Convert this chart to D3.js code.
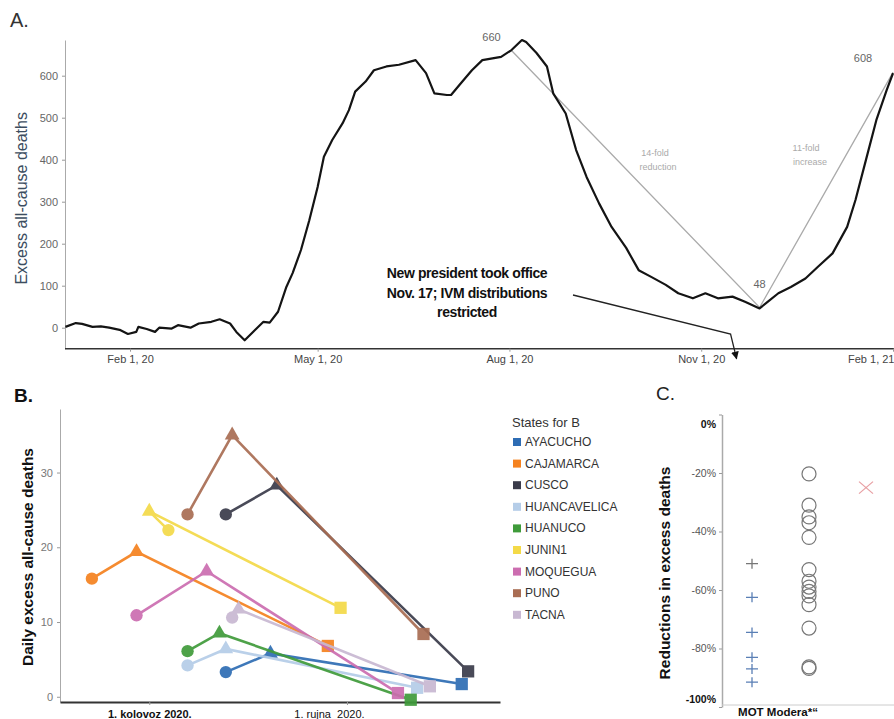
<!DOCTYPE html>
<html>
<head>
<meta charset="utf-8">
<script src="https://cdn.jsdelivr.net/npm/d3@7"></script>
<style>
  body { margin: 0; background: #fff; }
  svg { display: block; font-family: 'Liberation Sans', Arial, sans-serif; }
</style>
</head>
<body>
<svg id="chart" width="894" height="719"></svg>
<script>
const parse = d3.timeParse('%Y-%m-%d')

// ---- Panel A: excess all-cause deaths, Peru ----
const excessDates = [
  '2020-01-01', '2020-01-06', '2020-01-09', '2020-01-14', '2020-01-18', '2020-01-22', '2020-01-27',
  '2020-01-31', '2020-02-04', '2020-02-05', '2020-02-09', '2020-02-13', '2020-02-15', '2020-02-21',
  '2020-02-24', '2020-03-01', '2020-03-05', '2020-03-11', '2020-03-15', '2020-03-20', '2020-03-23',
  '2020-03-27', '2020-03-31', '2020-04-05', '2020-04-08', '2020-04-12', '2020-04-16', '2020-04-19',
  '2020-04-23', '2020-04-27', '2020-05-01', '2020-05-04', '2020-05-08', '2020-05-13', '2020-05-16',
  '2020-05-19', '2020-05-24', '2020-05-28', '2020-06-03', '2020-06-09', '2020-06-17', '2020-06-22',
  '2020-06-26', '2020-07-02', '2020-07-04', '2020-07-08', '2020-07-14', '2020-07-19', '2020-07-28',
  '2020-08-02', '2020-08-07', '2020-08-09', '2020-08-14', '2020-08-19', '2020-08-22', '2020-08-28',
  '2020-09-02', '2020-09-07', '2020-09-13', '2020-09-19', '2020-09-26', '2020-10-02', '2020-10-08',
  '2020-10-15', '2020-10-21', '2020-10-28', '2020-11-03', '2020-11-09', '2020-11-16', '2020-11-22',
  '2020-11-29', '2020-12-03', '2020-12-08', '2020-12-14', '2020-12-21', '2020-12-27', '2021-01-03',
  '2021-01-10', '2021-01-14', '2021-01-19', '2021-01-24', '2021-01-29', '2021-02-01'
]
const excessValues = [
  2, 11, 9, 2, 3, 0, -5,
  -15, -10, 2, -3, -10, 0, -2,
  6, 0, 10, 14, 20, 10, -10,
  -30, -10, 14, 12, 38, 97, 130,
  185, 256, 335, 407, 447, 487, 518,
  562, 586, 613, 622, 626, 637, 606,
  558, 554, 554, 578, 613, 637, 645,
  661, 685, 680, 654, 622, 558, 510,
  423, 359, 296, 240, 190, 137, 121,
  102, 82, 70, 82, 70, 74, 62,
  46, 62, 82, 97, 117, 145, 177,
  240, 304, 399, 494, 566, 606
]
const trendDates = ['2020-08-02', '2020-11-29', '2021-02-01']
const trendValues = [660, 48, 608]
const aTickDates = ['2020-02-01', '2020-05-01', '2020-08-01', '2020-11-01', '2021-02-01']
const aTickLabels = ['Feb 1, 20', 'May 1, 20', 'Aug 1, 20', 'Nov 1, 20', 'Feb 1, 21']
const aYTicks = [0, 100, 200, 300, 400, 500, 600]

// ---- Panel B: states, daily excess deaths ----
const states = ['AYACUCHO', 'CAJAMARCA', 'CUSCO', 'HUANCAVELICA', 'HUANUCO', 'JUNIN1', 'MOQUEGUA', 'PUNO', 'TACNA']
const stateColors = ['#2e6db4', '#f5821f', '#3a3b4a', '#b5cde8', '#3f9b3a', '#f4da48', '#cc6db0', '#a96d53', '#c8b8d2']
// each state: start (circle), peak (triangle), end (square)
const stateDates = [
  ['2020-08-13', '2020-08-20', '2020-09-19'],
  ['2020-07-23', '2020-07-30', '2020-08-29'],
  ['2020-08-13', '2020-08-21', '2020-09-20'],
  ['2020-08-07', '2020-08-13', '2020-09-12'],
  ['2020-08-07', '2020-08-12', '2020-09-11'],
  ['2020-08-04', '2020-08-01', '2020-08-31'],
  ['2020-07-30', '2020-08-10', '2020-09-09'],
  ['2020-08-07', '2020-08-14', '2020-09-13'],
  ['2020-08-14', '2020-08-15', '2020-09-14']
]
const stateValues = [
  [3.3, 5.8, 1.7],
  [15.8, 19.4, 6.8],
  [24.4, 28.3, 3.4],
  [4.2, 6.4, 1.2],
  [6.1, 8.5, -0.4],
  [22.3, 24.8, 11.9],
  [10.9, 16.8, 0.5],
  [24.4, 35, 8.4],
  [10.6, 11.7, 1.4]
]
const bTickDates = ['2020-08-01', '2020-09-01']
const bTickLabels = ['1. kolovoz 2020.', '1. rujna  2020.']
const bYTicks = [0, 10, 20, 30]

// ---- Panel C: reductions in excess deaths ----
const cGroups = ['MOT', 'Modera', 'Other']
const cYTicks = [0, -20, -40, -60, -80, -100]
const motValues = [-51, -62.5, -74.5, -83, -87, -91.5]
const moderaValues = [-20.3, -31, -35, -37, -42, -53, -57, -59, -60.5, -62, -65, -73, -86.3, -86.8]
const otherValues = [-25]

const svg = d3.select('#chart')

const label = (x, y, txt, size, opts = {}) => svg.append('text')
  .attr('x', x).attr('y', y)
  .attr('font-size', size)
  .attr('font-weight', opts.bold ? 'bold' : 'normal')
  .attr('fill', opts.fill || '#222')
  .attr('text-anchor', opts.anchor || 'start')
  .text(txt)

const styleAxis = (g, color) => {
  g.select('.domain').attr('stroke', color)
  g.selectAll('.tick line').attr('stroke', '#999')
  g.selectAll('.tick text').attr('fill', '#444').attr('font-size', 11)
    .attr('font-family', "'Liberation Sans', Arial, sans-serif")
}

// ================= A =================
const xA = d3.scaleTime().domain([parse('2020-01-01'), parse('2021-02-01')]).range([65.4, 893])
const yA = d3.scaleLinear().domain([-50, 685]).range([348.7, 40])

label(10, 27, 'A.', 20, { fill: '#333' })

const gAy = svg.append('g').attr('transform', 'translate(65,0)')
  .call(d3.axisLeft(yA).tickValues(aYTicks).tickSize(3).tickSizeOuter(0).tickPadding(4))
styleAxis(gAy, '#aaa')
gAy.selectAll('.tick text').attr('fill', '#666')

const gAx = svg.append('g').attr('transform', `translate(0,${yA(-50)})`)
  .call(d3.axisBottom(xA).tickValues(aTickDates.map(parse)).tickFormat((d, i) => aTickLabels[i])
    .tickSize(3).tickSizeOuter(0).tickPadding(4))
styleAxis(gAx, '#333')
gAx.select('.domain').attr('stroke-width', 1.6).attr('d', `M65,0H894`)
gAx.selectAll('.tick').filter((d, i) => i === aTickDates.length - 1).select('text')
  .attr('text-anchor', 'end').attr('dx', 1)

svg.append('text')
  .attr('transform', `translate(27,${(yA(-50) + yA(685)) / 2 + 4}) rotate(-90)`)
  .attr('text-anchor', 'middle').attr('font-size', 16).attr('fill', '#3c4d60')
  .text('Excess all-cause deaths')

// gray trend segments
const trend = trendDates.map((d, i) => ({ date: parse(d), value: trendValues[i] }))
svg.append('path').datum(trend)
  .attr('fill', 'none').attr('stroke', '#aaa').attr('stroke-width', 1.3)
  .attr('d', d3.line().x(d => xA(d.date)).y(d => yA(d.value)))

const excess = excessDates.map((d, i) => ({ date: parse(d), value: excessValues[i] }))
svg.append('path').datum(excess)
  .attr('fill', 'none').attr('stroke', '#141414').attr('stroke-width', 2.2)
  .attr('stroke-linejoin', 'round')
  .attr('d', d3.line().x(d => xA(d.date)).y(d => yA(d.value)))

// trend labels
label(xA(trend[0].date) - 20, yA(trend[0].value) - 10, trend[0].value, 11, { fill: '#666', anchor: 'middle' })
label(xA(trend[1].date), yA(trend[1].value) - 20, trend[1].value, 11, { fill: '#666', anchor: 'middle' })
label(xA(trend[2].date) - 30, yA(trend[2].value) - 10, trend[2].value, 11, { fill: '#666', anchor: 'middle' })

label(655, 156, '14-fold', 9, { fill: '#aaa', anchor: 'middle' })
label(658, 170, 'reduction', 9, { fill: '#aaa', anchor: 'middle' })
label(806, 151, '11-fold', 9, { fill: '#aaa', anchor: 'middle' })
label(810, 165, 'increase', 9, { fill: '#aaa', anchor: 'middle' })

// annotation
const note = ['New president took office', 'Nov. 17; IVM distributions', 'restricted']
note.forEach((t, i) => label(467, 278 + i * 19.5, t, 14, { anchor: 'middle', fill: '#111', bold: true })
  .attr('letter-spacing', -0.4))

svg.append('defs').append('marker')
  .attr('id', 'arrow').attr('viewBox', '0 0 10 10').attr('refX', 9).attr('refY', 5)
  .attr('markerWidth', 6).attr('markerHeight', 7).attr('orient', 'auto')
  .append('path').attr('d', 'M0,0L10,5L0,10z').attr('fill', '#111')

const tipX = xA(parse('2020-11-17')) + 2
svg.append('path')
  .attr('d', `M573,295L${tipX - 6},334L${tipX},${yA(-50) + 10}`)
  .attr('fill', 'none').attr('stroke', '#222').attr('stroke-width', 1.3)
  .attr('marker-end', 'url(#arrow)')

// ================= B =================
const xB = d3.scaleTime().domain([parse('2020-07-18'), parse('2020-09-25')]).range([60, 500])
const yB = d3.scaleLinear().domain([-0.7, 38.5]).range([702, 409])

label(14, 402, 'B.', 19, { bold: true, fill: '#111' })

const gBy = svg.append('g').attr('transform', 'translate(60,0)')
  .call(d3.axisLeft(yB).tickValues(bYTicks).tickSize(3).tickSizeOuter(0).tickPadding(4))
styleAxis(gBy, '#aaa')
gBy.selectAll('.tick text').attr('fill', '#777')

const gBx = svg.append('g').attr('transform', `translate(0,${yB(-0.7)})`)
  .call(d3.axisBottom(xB).tickValues(bTickDates.map(parse)).tickFormat((d, i) => bTickLabels[i])
    .tickSize(3).tickSizeOuter(0).tickPadding(5))
styleAxis(gBx, '#333')
gBx.select('.domain').attr('stroke-width', 2)
gBx.selectAll('.tick text').attr('fill', '#111').style('white-space', 'pre')
gBx.selectAll('.tick').filter((d, i) => i === 0).select('text').attr('font-weight', 'bold')
gBx.selectAll('.tick').filter((d, i) => i === 1).select('text').attr('dx', -18)

svg.append('text')
  .attr('transform', `translate(33,557) rotate(-90)`)
  .attr('text-anchor', 'middle').attr('font-size', 15.5).attr('font-weight', 'bold').attr('fill', '#111')
  .text('Daily excess all-cause deaths')

const symbols = [d3.symbolCircle, d3.symbolTriangle, d3.symbolSquare]
const symSizes = [120, 95, 150]

states.forEach((s, k) => {
  const pts = stateDates[k].map((d, i) => ({ date: parse(d), value: stateValues[k][i] }))
  const g = svg.append('g').attr('opacity', 0.92)
  g.append('path').datum(pts)
    .attr('fill', 'none').attr('stroke', stateColors[k]).attr('stroke-width', 2.6)
    .attr('d', d3.line().x(d => xB(d.date)).y(d => yB(d.value)))
  g.selectAll('path.m').data(pts).join('path').attr('class', 'm')
    .attr('transform', d => `translate(${xB(d.date)},${yB(d.value)})`)
    .attr('d', (d, i) => d3.symbol(symbols[i], symSizes[i])())
    .attr('fill', stateColors[k])
})

// legend
label(512, 427, 'States for B', 13, { fill: '#333' })
states.forEach((s, k) => {
  const y = 446 + k * 21.6
  svg.append('rect').attr('x', 513).attr('y', y - 8).attr('width', 8).attr('height', 8)
    .attr('fill', stateColors[k])
  label(525, y, s, 12, { fill: '#333' })
})

// ================= C =================
const xC = d3.scalePoint().domain(cGroups).range([752, 866])
const yC = d3.scaleLinear().domain([-100, 0]).range([707, 414.5])

label(656, 400, 'C.', 19, { fill: '#222' })

const gCy = svg.append('g').attr('transform', 'translate(722,0)')
  .call(d3.axisLeft(yC).tickValues(cYTicks).tickFormat(d => d + '%').tickSize(3).tickSizeOuter(0).tickPadding(3))
styleAxis(gCy, '#aaa')
gCy.select('.domain').attr('stroke-width', 1.5)
gCy.selectAll('.tick text').attr('font-size', 10.5).attr('fill', '#555')
gCy.selectAll('.tick').filter(d => d === 0).select('text').attr('dy', '1.2em').attr('font-weight', 'bold').attr('fill', '#111')
gCy.selectAll('.tick').filter(d => d === -100).select('text').attr('dy', '-0.4em').attr('font-weight', 'bold').attr('fill', '#111')

svg.append('line').attr('x1', 722).attr('x2', 894).attr('y1', yC(-100) - 2).attr('y2', yC(-100) - 2)
  .attr('stroke', '#ccc').attr('stroke-width', 1)

svg.append('text')
  .attr('transform', `translate(670,573) rotate(-90)`)
  .attr('text-anchor', 'middle').attr('font-size', 15.5).attr('font-weight', 'bold').attr('fill', '#111')
  .text('Reductions in excess deaths')

svg.selectAll('path.mot').data(motValues).join('path').attr('class', 'mot')
  .attr('transform', d => `translate(${xC('MOT')},${yC(d)})`)
  .attr('d', 'M-6,0H6M0,-5V5')
  .attr('stroke', (d, i) => i === 0 ? '#777' : '#5a7fb5').attr('stroke-width', 1.3)

svg.selectAll('circle.mod').data(moderaValues).join('circle').attr('class', 'mod')
  .attr('cx', xC('Modera')).attr('cy', d => yC(d)).attr('r', 7)
  .attr('fill', 'none').attr('stroke', '#777').attr('stroke-width', 1.2)

svg.selectAll('path.oth').data(otherValues).join('path').attr('class', 'oth')
  .attr('transform', d => `translate(${xC('Other')},${yC(d)})`)
  .attr('d', 'M-7,-6L7,6M-7,6L7,-6')
  .attr('stroke', '#e8a0a4').attr('stroke-width', 1.3)

label(778, 716, 'MOT Modera*\u201c', 11.5, { bold: true, anchor: 'middle', fill: '#111' })
</script>
</body>
</html>
